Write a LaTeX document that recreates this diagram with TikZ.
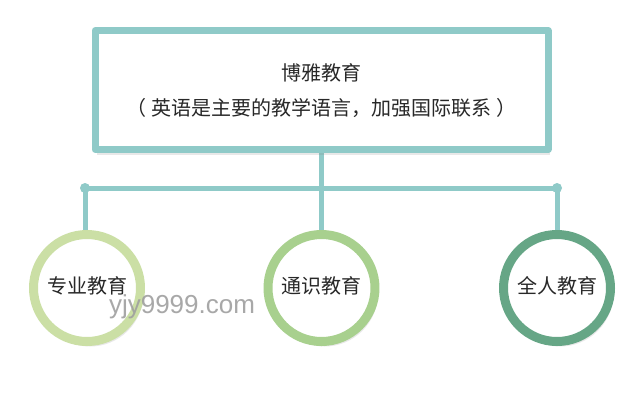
\documentclass[tikz,border=0pt]{standalone}
\usepackage{fontspec}
\setmainfont{Noto Sans CJK SC}
\newfontfamily\wmfont{Liberation Sans}
\usepackage{tikz}
\usetikzlibrary{shadows}
\definecolor{tealline}{RGB}{143,202,200}
\definecolor{ringa}{RGB}{203,223,165}
\definecolor{ringb}{RGB}{168,208,142}
\definecolor{ringc}{RGB}{102,166,134}
\definecolor{txtgray}{RGB}{40,40,40}

\begin{document}
\begin{tikzpicture}[line cap=round,line join=round,x=1pt,y=-1pt,
    topbox/.style={draw=tealline,line width=7pt,fill=white,minimum width=453pt,minimum height=119pt,
      drop shadow={opacity=0.18,shadow xshift=2pt,shadow yshift=-5pt}},
    ring/.style={circle,draw=#1,line width=9pt,fill=white,minimum size=107pt,inner sep=0pt,
      drop shadow={opacity=0.18,shadow xshift=3pt,shadow yshift=-5pt}},
    conn/.style={draw=tealline,line width=5pt},
    lbl/.style={font=\fontsize{20}{24}\selectfont,text=txtgray}]
    \useasboundingbox (0,0) rectangle (640,408);
    \fill[white] (0,0) rectangle (640,408);
    % junctions on the bar
    \coordinate (lj) at (85,188);
    \coordinate (mj) at (321.5,188);
    \coordinate (rj) at (557,188);
    % connectors
    \draw[conn] (321.5,150) -- (mj);
    \draw[conn] (lj) -- (rj);
    \fill[tealline] (lj) circle (5);
    \fill[tealline] (rj) circle (5);
    \draw[conn] (lj) -- (85,240);
    \draw[conn] (mj) -- (321.5,240);
    \draw[conn] (rj) -- (557,240);
    % boxes
    \node[topbox] (top) at (321.5,90) {};
    \node[lbl] (title) at (321.5,73) {博雅教育};
    \node[lbl] (sub) at (321.5,108) {（\hspace{5pt}英语是主要的教学语言，加强国际联系\hspace{5pt}）};
    \node[ring=ringa] (pro) at (87,288) {};
    \node[ring=ringb] (gen) at (321.5,288) {};
    \node[ring=ringc] (all) at (557,288) {};
    \node[lbl] at (87,286) {专业教育};
    \node[lbl] at (321.5,286) {通识教育};
    \node[lbl] at (557,286) {全人教育};
    % watermark
    \node[font=\wmfont\fontsize{26}{30}\selectfont,text=gray!75,opacity=0.9] (wm) at (182,307) {yjy9999.com};
\end{tikzpicture}
\end{document}
